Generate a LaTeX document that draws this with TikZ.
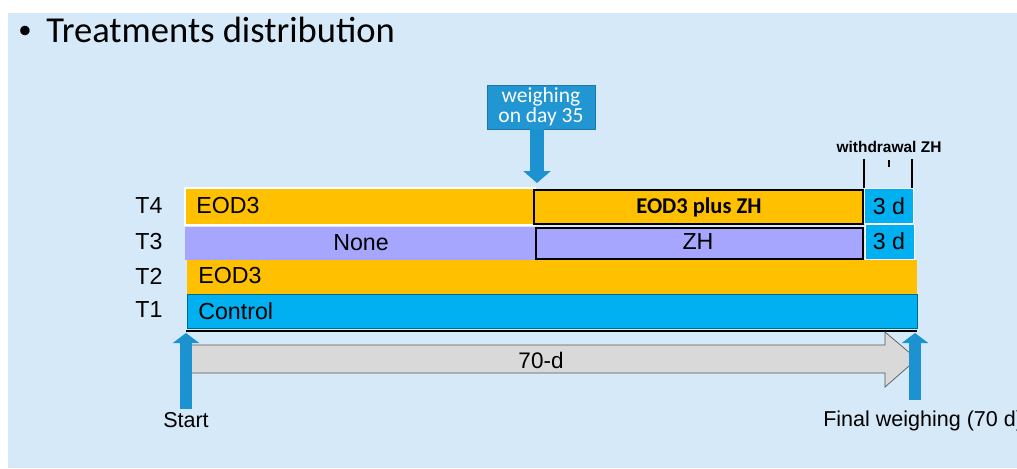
\documentclass[tikz,border=0pt]{standalone}
\usepackage{fontspec}
\setmainfont{Liberation Sans}
\newfontfamily\calibri{Carlito}
\usetikzlibrary{arrows.meta}
\definecolor{bgblue}{RGB}{214,233,248}
\definecolor{eodorange}{RGB}{255,192,0}
\definecolor{ctrlblue}{RGB}{0,176,240}
\definecolor{nonelilac}{RGB}{166,166,255}
\definecolor{arrowblue}{RGB}{28,146,208}
\definecolor{boxblue}{RGB}{33,150,211}
\definecolor{bargray}{RGB}{217,217,217}
\tikzset{
  rowtext/.style={font=\fontsize{16.5}{18}\selectfont,inner sep=0pt},
  treatlabel/.style={font=\fontsize{16.5}{18}\selectfont,inner sep=0pt},
  smalltext/.style={font=\fontsize{15.3}{18}\selectfont,inner sep=0pt},
  periodbox/.style={draw=black,line width=2pt},
  daysbox/.style={fill=ctrlblue,draw=white,line width=0.6pt},
  weighbox/.style={fill=boxblue,draw=boxblue!80!black,line width=0.5pt,text=white,
    font=\calibri\fontsize{15.3}{14.5}\selectfont,align=center,
    minimum width=2.7cm,minimum height=1.1cm,inner sep=0pt},
  bigarrow/.style={draw=arrowblue!80!black,line width=0.3cm,
    -{Triangle[length=0.25cm,width=0.65cm]},arrowblue},
  tickline/.style={draw=black,line width=0.8pt}
}
\begin{document}
\begin{tikzpicture}[x=0.025cm,y=-0.025cm]
  \useasboundingbox (0,0) rectangle (1017,468);
  \fill[bgblue] (8,13) rectangle (1017,468);
  % title
  \node[font=\calibri\fontsize{19}{22}\selectfont,inner sep=0pt] (bullet) at (25,32) {\textbullet};
  \node[font=\calibri\fontsize{26}{30}\selectfont,inner sep=0pt,anchor=base west] (title) at (46,42) {Treatments distribution};
  % rows
  \fill[eodorange,draw=white,line width=0.8pt] (185,188) rectangle (535,225);
  \fill[nonelilac] (185,227) rectangle (535,260);
  \fill[eodorange] (187,260) rectangle (917,294);
  \fill[ctrlblue,draw=ctrlblue!60!black,line width=0.4pt] (187,294) rectangle (917,328);
  \draw[draw=black,line width=1.2pt] (186,331) -- (917,331);
  \filldraw[eodorange,periodbox] (534,190) rectangle (863,224);
  \filldraw[nonelilac,periodbox,line width=1.6pt] (536,228) rectangle (863,259);
  \filldraw[daysbox] (864,188) rectangle (913,223);
  \filldraw[daysbox] (865,224) rectangle (914,259);
  \node[treatlabel] (t4) at (149,206) {T4};
  \node[treatlabel] (t3) at (149,242) {T3};
  \node[treatlabel] (t2) at (149,276) {T2};
  \node[treatlabel] (t1) at (149,310) {T1};
  \node[rowtext,anchor=west] (eodfour) at (196,206) {EOD3};
  \node[rowtext] (none) at (361,243) {None};
  \node[font=\calibri\bfseries\fontsize{16}{18}\selectfont,inner sep=0pt] (eodzh) at (699,207) {EOD3 plus ZH};
  \node[rowtext] (zh) at (698,242) {ZH};
  \node[rowtext] (daysfour) at (889,206) {3 d};
  \node[rowtext] (daysthree) at (889,241) {3 d};
  \node[rowtext,anchor=west] (eodtwo) at (198,276) {EOD3};
  \node[rowtext,anchor=west] (control) at (198,311) {Control};
  % withdrawal
  \node[font=\bfseries\fontsize{11}{13}\selectfont,inner sep=0pt] (withdraw) at (889,147) {withdrawal ZH};
  \draw[tickline] (864,159) -- (864,188);
  \draw[tickline] (912,159) -- (912,188);
  \draw[tickline] (889,160) -- (889,167);
  % weighing on day 35
  \node[weighbox] (weigh) at (541,107) {weighing\\on day 35};
  \coordinate (dayfive) at (537,183);
  \draw[bigarrow,line width=0.35cm,-{Triangle[length=0.3cm,width=0.675cm]}] (weigh.south -| dayfive) -- (dayfive);
  % 70 days
  \filldraw[fill=bargray,draw=gray!70!black,line width=0.5pt]
    (186,345) -- (885,345) -- (885,332) -- (917,359) -- (885,387) -- (885,373) -- (186,373) -- cycle;
  \node[font=\fontsize{16}{18}\selectfont,inner sep=0pt] (days) at (541,360) {70-d};
  % start and end
  \node[smalltext] (start) at (186,420) {Start};
  \coordinate (startfoot) at (186,409);
  \coordinate (starttip) at (186,333);
  \draw[bigarrow] (startfoot) -- (starttip);
  \node[smalltext,anchor=west] (final) at (823,421) {Final weighing (70 d)};
  \coordinate (finalfoot) at (915,400);
  \coordinate (finaltip) at (915,333);
  \draw[bigarrow] (finalfoot) -- (finaltip);
\end{tikzpicture}
\end{document}
